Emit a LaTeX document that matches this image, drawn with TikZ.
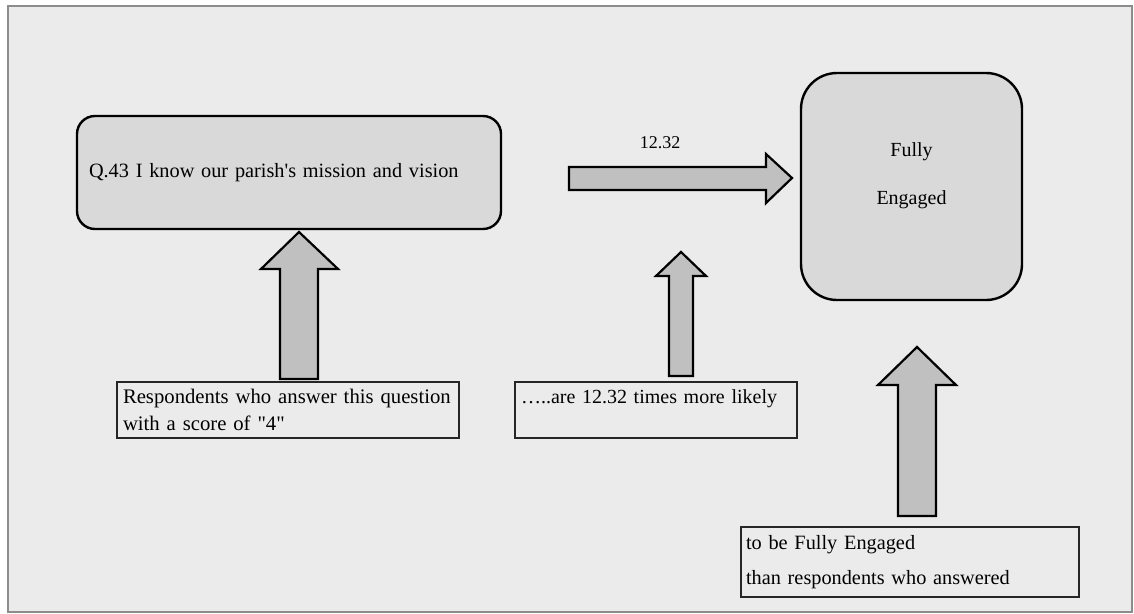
\documentclass[tikz,border=0pt]{standalone}
\usepackage{fontspec}
\setmainfont{Liberation Serif}[Ligatures=TeXOff]
\begin{document}
\begin{tikzpicture}[x=1pt,y=-1pt,
  bigbox/.style={draw=black, line width=2.4pt, fill=boxgray, inner sep=0pt},
  txtbox/.style={draw=black!85, line width=1.6pt, fill=none, inner sep=0pt},
  barrow/.style={draw=black, line width=2.2pt, fill=arrowgray, line join=miter},
  lbl/.style={font=\fontsize{20}{27}\selectfont, inner sep=0pt}]
\definecolor{bggray}{HTML}{EBEBEB}
\definecolor{boxgray}{HTML}{D9D9D9}
\definecolor{arrowgray}{HTML}{C0C0C0}
\definecolor{framegray}{HTML}{8C8C8C}
\useasboundingbox (0,0) rectangle (1134,613);
\fill[white] (0,0) rectangle (1134,613);
\draw[framegray, line width=1.5pt, fill=bggray] (8,6) rectangle (1132,612);

% main boxes
\node[bigbox, rounded corners=18pt, minimum width=424pt, minimum height=113pt,
      text width=400pt, align=left, font=\fontsize{20.3}{25}\selectfont]
  (q) at (289,172.5) {Q.43 I know our parish's mission and vision};
\node[bigbox, rounded corners=36pt, minimum width=221pt, minimum height=227pt]
  (fe) at (911.5,186.5) {};
\node[lbl, align=center, font=\fontsize{20}{48}\selectfont] (fetext) at (911.5,176)
  {Fully\\Engaged};

% text boxes
\node[txtbox, lbl, minimum width=342pt, minimum height=56pt, text width=330pt,
      align=left, font=\fontsize{20.7}{27}\selectfont] (resp) at (288,410)
  {Respondents who answer this question\\with a score of "4"};
\node[txtbox, lbl, minimum width=282pt, minimum height=56pt, text width=270pt,
      align=left] (likely) at (656,410)
  {…..are 12.32 times more likely\\\mbox{}};
\node[txtbox, lbl, minimum width=338pt, minimum height=70pt, text width=328pt,
      align=left, font=\fontsize{20.3}{35}\selectfont] (than) at (910,562)
  {to be Fully Engaged\\than respondents who answered};

% value label
\node[inner sep=0pt, font=\fontsize{18}{20}\selectfont] (val) at (660,143) {12.32};

% block arrows
\draw[barrow] (280,379) -- (280,269) -- (261,269) -- (299,232) -- (338,269)
  -- (318,269) -- (318,379) -- cycle;
\draw[barrow] (669,376) -- (669,276) -- (656,276) -- (681,252) -- (706,276)
  -- (693,276) -- (693,376) -- cycle;
\draw[barrow] (898,516) -- (898,385) -- (878,385) -- (917,347) -- (956,385)
  -- (936,385) -- (936,516) -- cycle;
\draw[barrow] (569,167) -- (766,167) -- (766,154) -- (792,178) -- (766,203)
  -- (766,190) -- (569,190) -- cycle;
\end{tikzpicture}
\end{document}
